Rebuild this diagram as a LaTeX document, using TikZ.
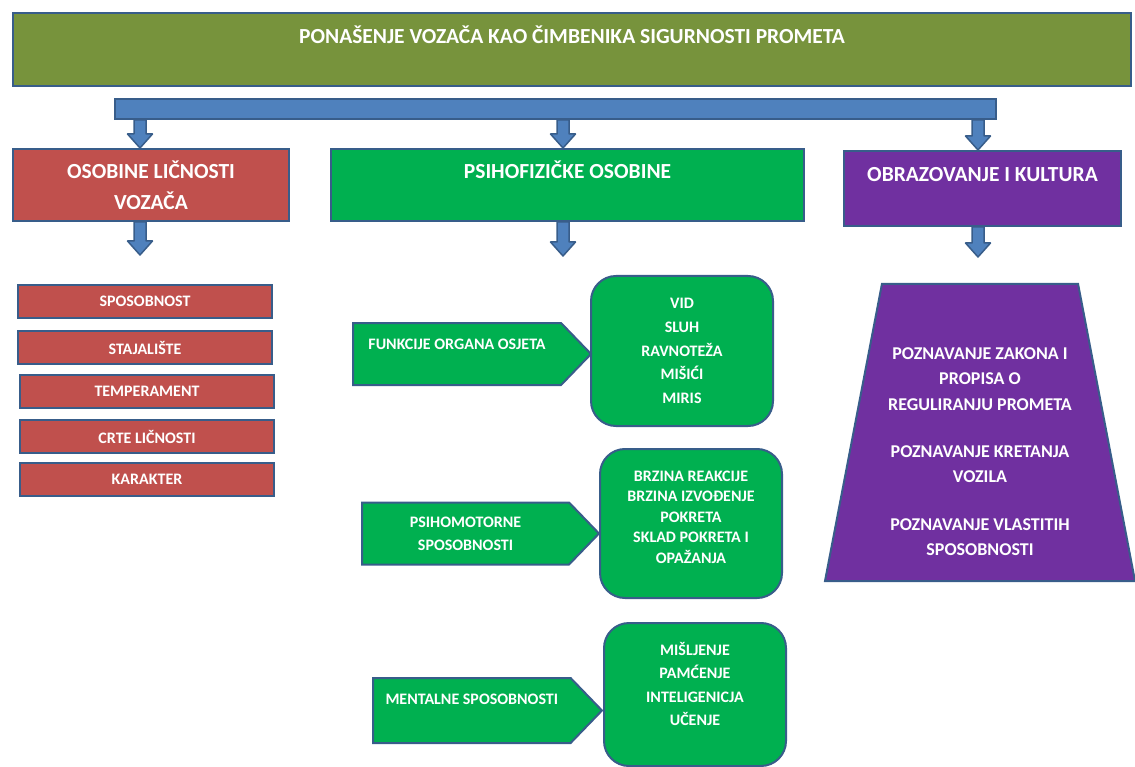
\documentclass[tikz,border=0pt]{standalone}
\usepackage{fontspec}
\setmainfont{Carlito}
\usepackage{xcolor}
\usetikzlibrary{positioning, shapes.geometric, shapes.symbols, calc}

\definecolor{titlegreen}{HTML}{77933C}
\definecolor{edgeblue}{HTML}{385D8A}
\definecolor{barblue}{HTML}{4F81BD}
\definecolor{boxred}{HTML}{C0504D}
\definecolor{boxgreen}{HTML}{00B050}
\definecolor{boxpurple}{HTML}{7030A0}

% block arrow from #1 down to the tip #2
\newcommand{\blkarrow}[2]{%
  \draw[blkarrow] ($#1+(-6,0)$) -- ($#2+(-6,-14)$) -- ($#2+(-12.5,-14)$) -- #2
    -- ($#2+(12.5,-14)$) -- ($#2+(6,-14)$) -- ($#1+(6,0)$) -- cycle;}

\begin{document}
\begin{tikzpicture}[
    x=1pt, y=-1pt,
    base/.style={
        draw=edgeblue,
        line width=2pt,
        text=white,
        inner sep=0pt,
        font=\bfseries\fontsize{16}{20}\selectfont
    },
    headbox/.style={
        base,
        anchor=north west,
        font=\bfseries\fontsize{21.5}{31}\selectfont
    },
    listbox/.style={
        base,
        fill=boxred,
        minimum width=254pt,
        minimum height=33pt
    },
    pointbox/.style={
        base,
        fill=boxgreen,
        signal, signal to=east, signal pointer angle=92,
        anchor=west,
        minimum height=62pt
    },
    roundbox/.style={
        base,
        fill=boxgreen,
        rounded corners=25pt,
        anchor=north west,
        minimum width=182pt,
        align=center
    },
    blkarrow/.style={
        draw=edgeblue,
        line width=1.5pt,
        fill=barblue,
        line join=round
    }
]
\useasboundingbox (0,0) rectangle (1135,767);

% Title and bar
\node[headbox, fill=titlegreen, minimum width=1118pt, minimum height=73pt,
      text height=30.5pt, text depth=42.5pt] (title) at (12,12)
      {PONAŠENJE VOZAČA KAO ČIMBENIKA SIGURNOSTI PROMETA};
\node[base, fill=barblue, anchor=north west, minimum width=881pt, minimum height=20pt] (bar) at (114,98) {};

\coordinate (c1) at (140,0);
\coordinate (c2) at (563,0);
\coordinate (c3) at (978,0);

% Arrows
\node[headbox, fill=boxred, minimum width=276pt, minimum height=72pt, align=center] (osobine) at (12,148)
      {OSOBINE LIČNOSTI\\VOZAČA};
\node[headbox, fill=boxgreen, minimum width=473pt, minimum height=72pt,
      text height=30pt, text depth=42pt] (psiho) at (330,148) {PSIHOFIZIČKE OSOBINE};
\node[headbox, fill=boxpurple, minimum width=277pt, minimum height=75pt,
      text height=31pt, text depth=44pt] (obraz) at (843,150) {OBRAZOVANJE I KULTURA};

\blkarrow{(bar.south -| c1)}{(osobine.north -| c1)}
\blkarrow{(bar.south -| c2)}{(psiho.north -| c2)}
\blkarrow{(bar.south -| c3)}{(obraz.north -| c3)}

\coordinate (redtip) at (140,255);
\coordinate (greentip) at (563,256);
\coordinate (purpletip) at (978,257);
\blkarrow{(osobine.south -| c1)}{(redtip)}
\blkarrow{(psiho.south -| c2)}{(greentip)}
\blkarrow{(obraz.south -| c3)}{(purpletip)}

% Left column
\node[listbox, anchor=north west] (sposob) at (17,284) {SPOSOBNOST};
\node[listbox, below=11pt of sposob] (stajal) {STAJALIŠTE};
\node[listbox, below=9pt of stajal, xshift=2pt] (temper) {TEMPERAMENT};
\node[listbox, below=10pt of temper] (crte) {CRTE LIČNOSTI};
\node[listbox, below=8pt of crte] (karakt) {KARAKTER};

% Middle column
\node[roundbox, minimum height=150pt, font=\bfseries\fontsize{16}{23.75}\selectfont] (osjeti) at (590,275)
      {VID\\SLUH\\RAVNOTEŽA\\MIŠIĆI\\MIRIS};
\node[roundbox, minimum height=149pt, font=\bfseries\fontsize{16}{20.5}\selectfont] (motor) at (599,448)
      {BRZINA REAKCIJE\\BRZINA IZVOĐENJE\\POKRETA\\SKLAD POKRETA I\\OPAŽANJA\rule[-13pt]{0pt}{0pt}};
\node[roundbox, minimum height=143pt, font=\bfseries\fontsize{16}{23.3}\selectfont] (mental) at (603,622)
      {MIŠLJENJE\\PAMĆENJE\\INTELIGENICJA\\UČENJE\rule[-21pt]{0pt}{0pt}};

\node[pointbox, minimum width=238pt, text height=26pt, text depth=36pt] (funkc) at (352,354) {FUNKCIJE ORGANA OSJETA};
\node[pointbox, minimum width=237pt, align=center, font=\bfseries\fontsize{16}{23}\selectfont] (psmot) at (361,533.5)
      {PSIHOMOTORNE\\SPOSOBNOSTI};
\node[pointbox, minimum width=229pt, minimum height=65pt, text height=26pt, text depth=39pt] (mentsp) at (372,710.5)
      {MENTALNE SPOSOBNOSTI};

% Right column
\node[base, fill=boxpurple, trapezium, trapezium angle=77, trapezium stretches body,
      minimum width=310pt, minimum height=297pt, align=center,
      font=\bfseries\fontsize{18}{25.5}\selectfont] (znanje) at (980,432.5)
      {\rule{0pt}{50pt}POZNAVANJE ZAKONA I\\PROPISA O\\REGULIRANJU PROMETA\\[21.5pt]
       POZNAVANJE KRETANJA\\VOZILA\\[22pt]
       POZNAVANJE VLASTITIH\\SPOSOBNOSTI};

\end{tikzpicture}
\end{document}
